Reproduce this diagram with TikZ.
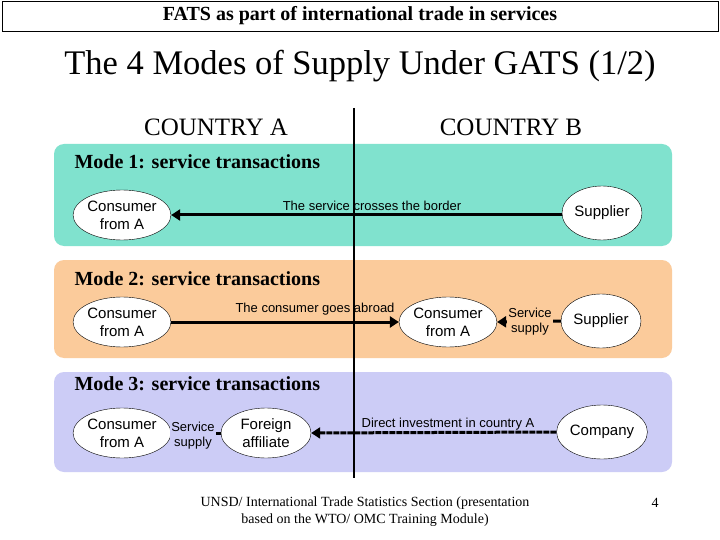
\documentclass[tikz,border=0pt]{standalone}
\usepackage{fontspec}
\setmainfont{Liberation Serif}
\newfontfamily\sansf{Liberation Sans}
\usetikzlibrary{shapes.geometric,arrows.meta}
\definecolor{mA}{HTML}{80E2CE}
\definecolor{mB}{HTML}{FBCB9B}
\definecolor{mC}{HTML}{CCCCF6}
\begin{document}
\begin{tikzpicture}[x=1pt,y=-1pt,
  panel/.style={rounded corners=10pt,draw=none},
  ell/.style={ellipse,draw,fill=white,minimum width=90,minimum height=50,inner sep=0pt,align=center,font=\sansf\fontsize{15}{18}\selectfont},
  lab/.style={font=\sansf\fontsize{13}{14}\selectfont,inner sep=1pt,align=center},
  sup/.style={lab,font=\sansf\fontsize{13}{15}\selectfont},
  mode/.style={anchor=west,font=\bfseries\fontsize{20}{22}\selectfont},
  arr/.style={line width=3pt,-{Triangle[length=9pt,width=11pt]}}]
\useasboundingbox (0,0) rectangle (720,540);
\fill[white] (0,0) rectangle (720,540);
\node[draw,fill=white,minimum width=716,minimum height=30,inner sep=0pt,font=\bfseries\fontsize{20}{22}\selectfont] (hdr) at (360,16) {FATS as part of international trade in services};
\node[font=\fontsize{34.5}{38}\selectfont] (title) at (360,66) {The 4 Modes of Supply Under GATS (1/2)};
\node[font=\fontsize{25}{28}\selectfont] (ca) at (216,127) {COUNTRY A};
\node[font=\fontsize{25}{28}\selectfont] (cb) at (511,127) {COUNTRY B};
\fill[mA,panel] (54,144) rectangle (672,246);
\fill[mB,panel] (54,260) rectangle (672,358);
\fill[mC,panel] (54,372) rectangle (672,472);
\draw[line width=2.5pt] (354,108) -- (354,478);
\node[mode] (m1) at (71,162) {Mode 1: service transactions};
\node[mode] (m2) at (71,279) {Mode 2: service transactions};
\node[mode] (m3) at (71,384) {Mode 3: service transactions};
% Mode 1
\node[ell] (c1) at (122,215) {Consumer\\from A};
\node[ell,minimum width=80,minimum height=54] (s1) at (602,213) {Supplier};
\draw[arr] (s1.west |- 0,215) -- (c1.east);
\node[lab] (l1) at (372,206) {The service crosses the border};
% Mode 2
\node[ell] (c2) at (122,322) {Consumer\\from A};
\node[ell] (c2b) at (448,322) {Consumer\\from A};
\node[ell,minimum width=80,minimum height=54] (s2) at (601,321) {Supplier};
\draw[arr] (c2.east) -- (c2b.west);
\draw[arr] (s2.west) -- (c2b.east);
\node[lab] (l2) at (315,309) {The consumer goes abroad};
\node[sup,fill=mB] (l2b) at (530,322) {Service\\supply};
% Mode 3
\node[ell] (c3) at (122,433) {Consumer\\from A};
\node[ell] (f3) at (266,433) {Foreign\\affiliate};
\node[ell,minimum width=80,minimum height=54] (co3) at (602,432) {Company};
\draw[arr] (f3.west) -- (c3.east);
\node[sup,fill=mC] (l3) at (193,436) {Service\\supply};
\draw[arr,dash pattern=on 6pt off 1pt] (co3.west) -- (f3.east);
\node[lab] (l3b) at (448,424) {Direct investment in country A};
% footer
\node[align=center,font=\fontsize{14}{17}\selectfont] (ft) at (365,512) {UNSD/ International Trade Statistics Section (presentation\\based on the WTO/ OMC Training Module)};
\node[font=\fontsize{14}{16}\selectfont] (pg) at (655,503) {4};
\end{tikzpicture}
\end{document}
